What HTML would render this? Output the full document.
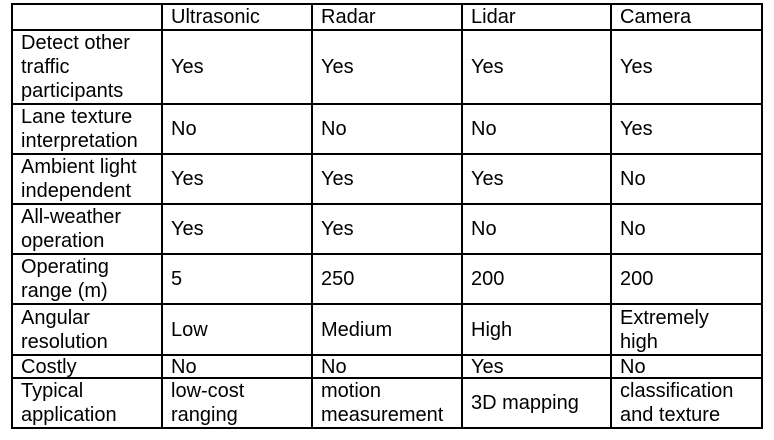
<!DOCTYPE html>
<html><head><meta charset="utf-8"><style>
body{margin:0;background:#fff;width:774px;height:440px;overflow:hidden}
table{position:absolute;left:11px;top:3px;border-collapse:collapse;table-layout:fixed;font-family:"Liberation Sans",Arial,sans-serif;font-size:20px;color:#000;line-height:24px}
td{border:2px solid #000;padding:0 0 0 8px;vertical-align:middle;white-space:nowrap;overflow:hidden}
</style></head><body>
<table>
<colgroup><col style="width:150px"><col style="width:150px"><col style="width:150px"><col style="width:149px"><col style="width:151px"></colgroup>
<tr style="height:24px"><td></td><td>Ultrasonic</td><td>Radar</td><td>Lidar</td><td>Camera</td></tr>
<tr style="height:73px"><td>Detect other<br>traffic<br>participants</td><td>Yes</td><td>Yes</td><td>Yes</td><td>Yes</td></tr>
<tr style="height:49px"><td>Lane texture<br>interpretation</td><td>No</td><td>No</td><td>No</td><td>Yes</td></tr>
<tr style="height:49px"><td>Ambient light<br>independent</td><td>Yes</td><td>Yes</td><td>Yes</td><td>No</td></tr>
<tr style="height:48px"><td>All-weather<br>operation</td><td>Yes</td><td>Yes</td><td>No</td><td>No</td></tr>
<tr style="height:50px"><td>Operating<br>range (m)</td><td>5</td><td>250</td><td>200</td><td>200</td></tr>
<tr style="height:51px"><td>Angular<br>resolution</td><td>Low</td><td>Medium</td><td>High</td><td>Extremely<br>high</td></tr>
<tr style="height:23px"><td style="line-height:20px">Costly</td><td style="line-height:20px">No</td><td style="line-height:20px">No</td><td style="line-height:20px">Yes</td><td style="line-height:20px">No</td></tr>
<tr style="height:45px"><td>Typical<br>application</td><td>low-cost<br>ranging</td><td>motion<br>measurement</td><td>3D mapping</td><td>classification<br>and texture</td></tr>
</table>
</body></html>
